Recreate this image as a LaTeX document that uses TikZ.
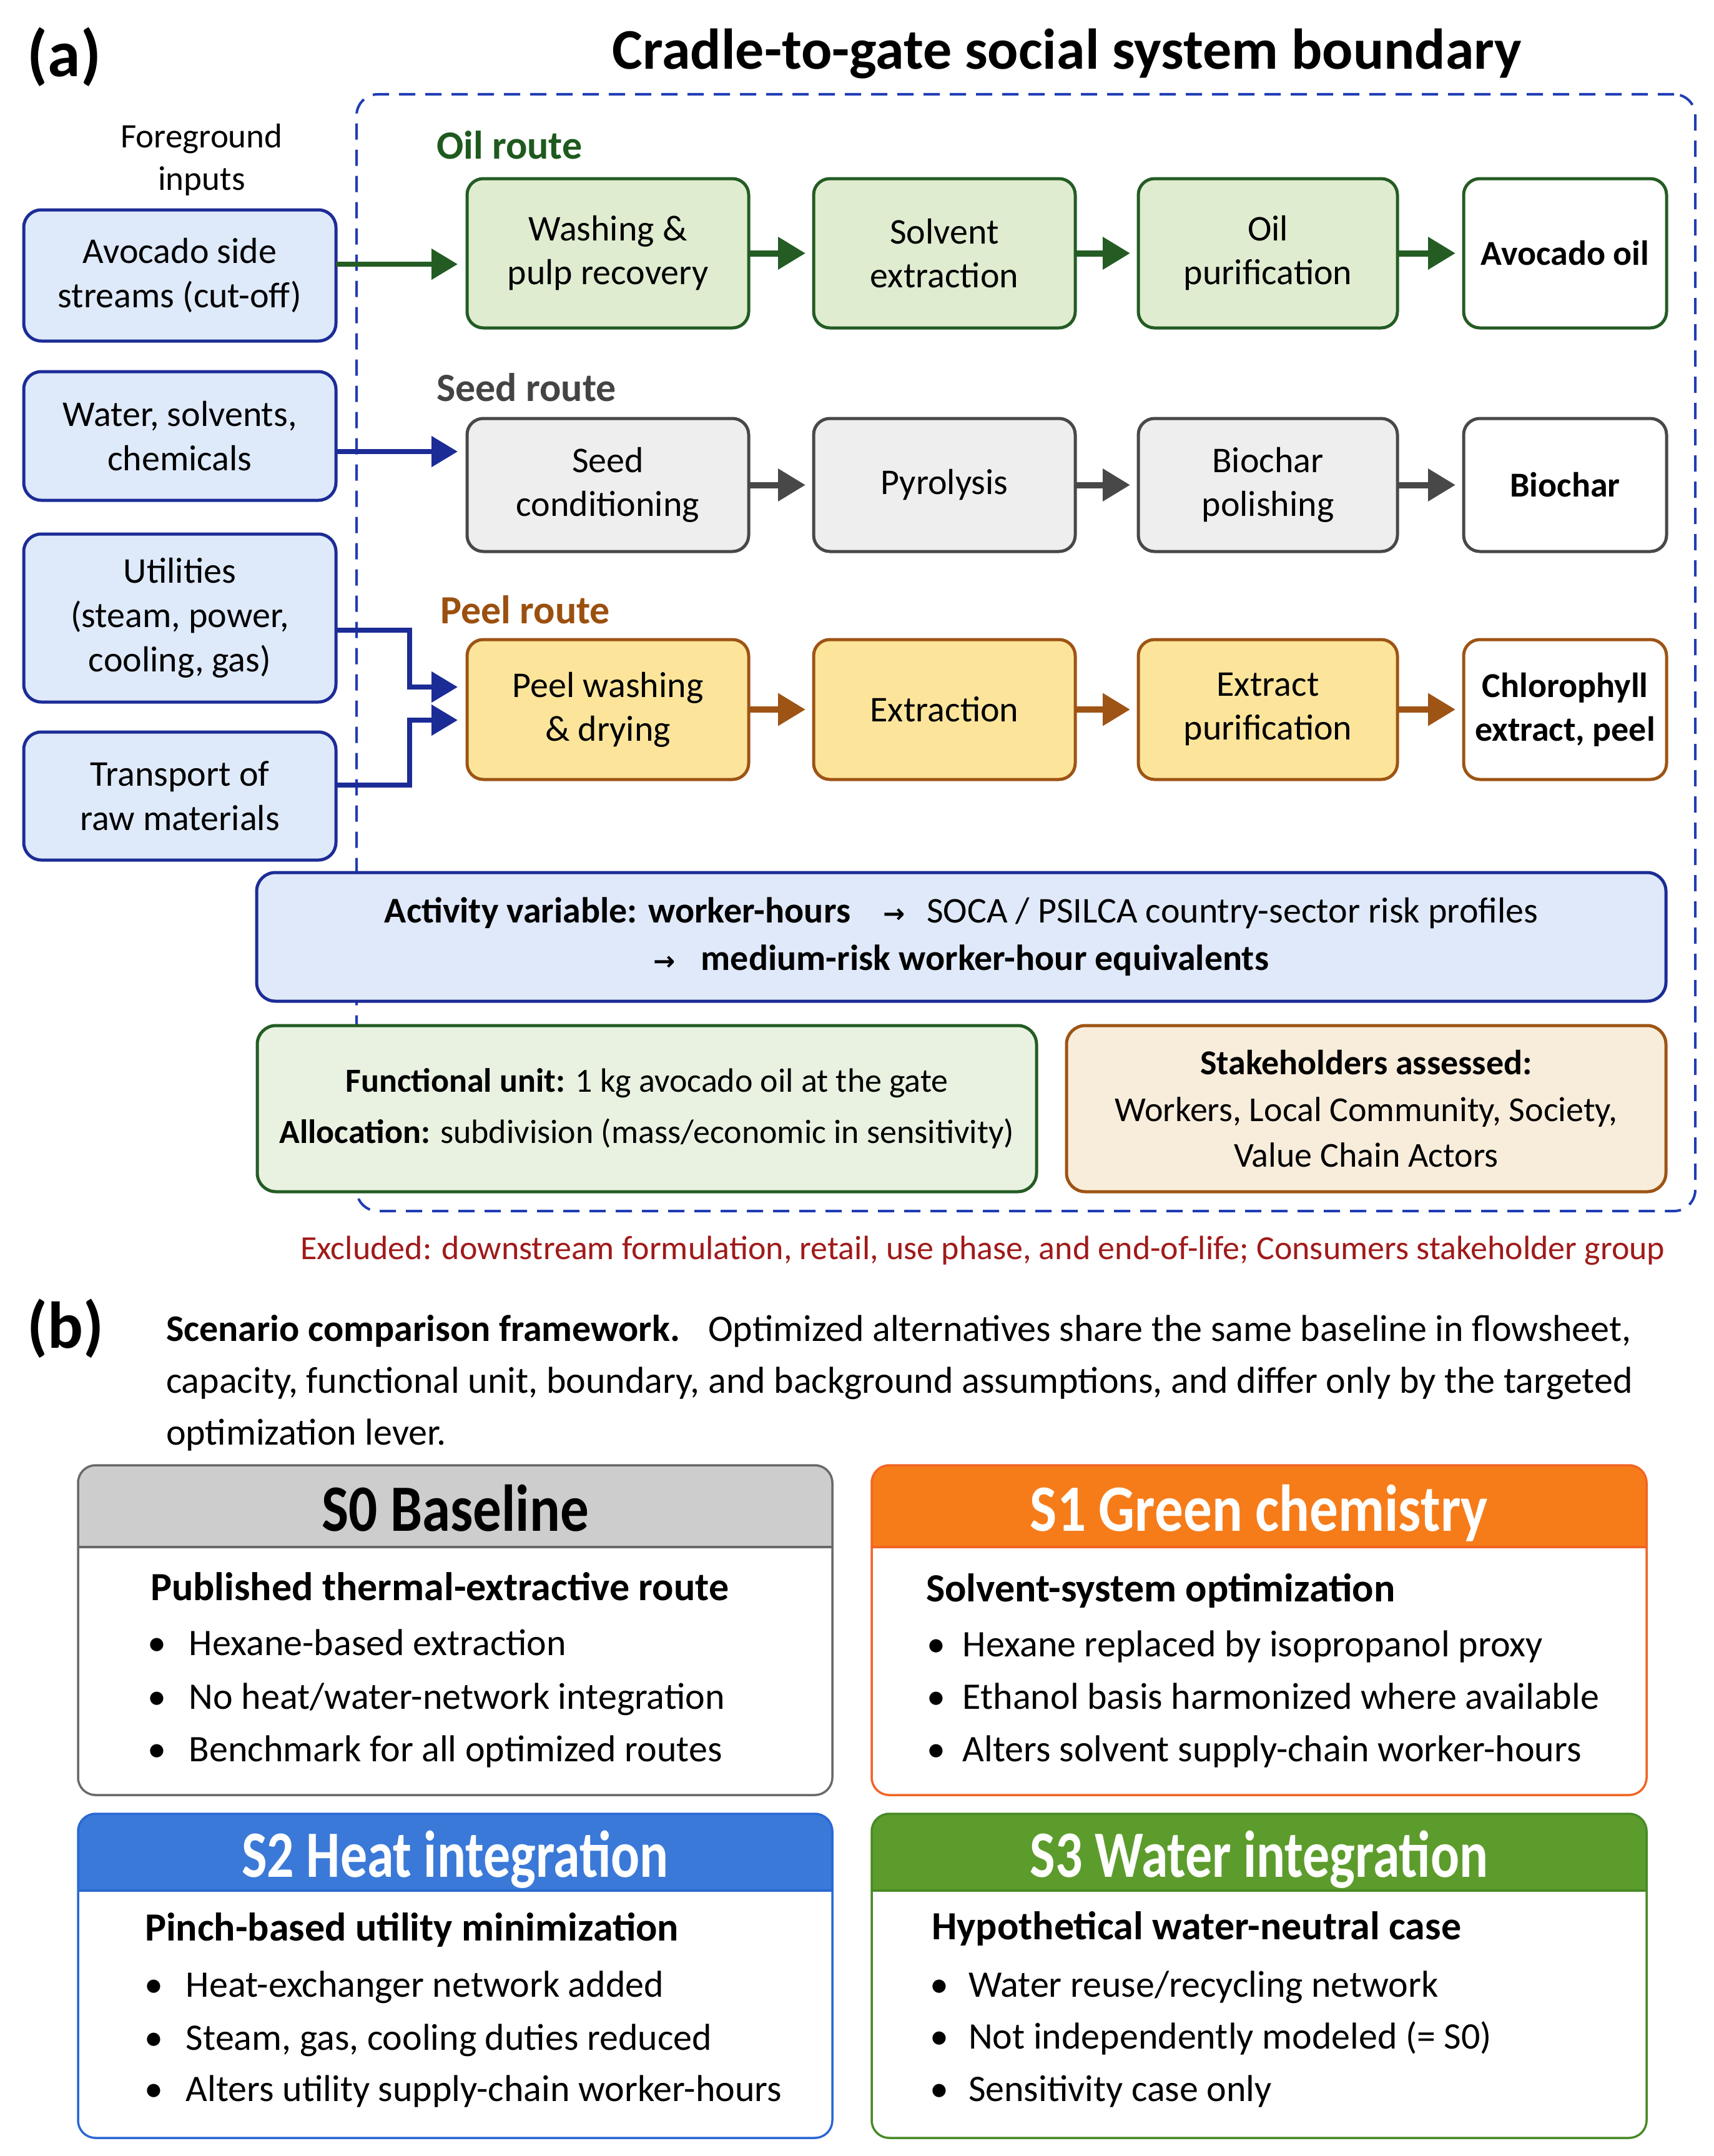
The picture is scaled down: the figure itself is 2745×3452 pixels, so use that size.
\documentclass[tikz,border=0pt]{standalone}
\usepackage{fontspec}
\usepackage{graphicx}
\setmainfont{Carlito}
\newfontfamily\arrowfont{DejaVu Sans}
\usetikzlibrary{arrows.meta,calc}
\newcommand\fsz[2]{\fontsize{#1}{#2}\selectfont}
\newcommand\ra{{\arrowfont\fsz{42}{42}\textbf{→}}}
\definecolor{inblue}{RGB}{28,44,150}
\definecolor{infill}{RGB}{222,233,250}
\definecolor{bndblue}{RGB}{32,60,180}
\definecolor{oilc}{RGB}{36,92,36}
\definecolor{oilfill}{RGB}{223,236,208}
\definecolor{oiltext}{RGB}{30,90,30}
\definecolor{seedc}{RGB}{72,72,72}
\definecolor{seedfill}{RGB}{238,238,238}
\definecolor{seedtext}{RGB}{68,68,68}
\definecolor{peelc}{RGB}{158,84,20}
\definecolor{peelfill}{RGB}{252,229,155}
\definecolor{peeltext}{RGB}{155,80,15}
\definecolor{actfill}{RGB}{224,233,250}
\definecolor{fufill}{RGB}{233,242,225}
\definecolor{stkfill}{RGB}{248,237,219}
\definecolor{exred}{RGB}{160,26,26}
\definecolor{hzero}{RGB}{205,205,205}
\definecolor{bzero}{RGB}{105,105,105}
\definecolor{hone}{RGB}{246,124,26}
\definecolor{bone}{RGB}{242,100,36}
\definecolor{htwo}{RGB}{58,121,216}
\definecolor{btwo}{RGB}{42,104,212}
\definecolor{hthree}{RGB}{92,156,44}
\definecolor{bthree}{RGB}{72,138,38}

% name, x-left, y-top, width, height, header height, header colour, border colour
\newcommand\scard[8]{%
  \node[minimum width=#4pt, minimum height=#5pt, anchor=north west] (#1) at (#2,#3) {};
  \begin{scope}
    \clip[rounded corners=28pt] (#1.north west) rectangle (#1.south east);
    \fill[white] (#1.north west) rectangle (#1.south east);
    \fill[#7] (#1.north west) rectangle ($(#1.north east)+(0,#6)$);
  \end{scope}
  \draw[#8, line width=3.5pt] ($(#1.north west)+(0,#6)$) -- ($(#1.north east)+(0,#6)$);
  \draw[#8, line width=3.5pt, rounded corners=28pt] (#1.north west) rectangle (#1.south east);
}

\begin{document}
\begin{tikzpicture}[x=1pt,y=-1pt,
  every node/.style={inner sep=0pt, outer sep=0pt},
  inbox/.style={draw=inblue, fill=infill, line width=5pt, rounded corners=28pt,
    minimum width=500pt, align=center, font=\fsz{58}{71}},
  proc/.style={line width=5pt, rounded corners=26pt, align=center, font=\fsz{58}{70}},
  oilbox/.style={proc, draw=oilc, fill=oilfill, minimum height=239pt},
  seedbox/.style={proc, draw=seedc, fill=seedfill, minimum height=213pt},
  peelbox/.style={proc, draw=peelc, fill=peelfill, minimum height=224pt},
  outbox/.style={fill=white, font=\bfseries\fsz{56}{70}},
  flow/.style={line width=10pt, -{Triangle[length=44pt,width=50pt]}, shorten >=13pt},
  inarr/.style={draw=inblue, color=inblue, line width=8pt, -{Triangle[length=42pt,width=48pt]}, shorten >=15pt},
  routelab/.style={anchor=base west, font=\bfseries\fsz{64}{64}},
  note/.style={line width=5pt, rounded corners=30pt, align=center},
  ctitle/.style={anchor=base, font=\bfseries\fsz{106}{106}},
  csub/.style={anchor=base west, font=\bfseries\fsz{64}{64}},
  cbul/.style={anchor=base west, font=\fsz{60}{60}},
  para/.style={anchor=base west, font=\fsz{60}{60}}
]
\useasboundingbox (0,0) rectangle (2745,3452);
\fill[white] (0,0) rectangle (2745,3452);

% ---------------- (a) ----------------
\node[draw=bndblue, line width=4pt, dash pattern=on 26pt off 16pt, rounded corners=34pt,
  minimum width=2144pt, minimum height=1788pt] (bnd) at (1643,1045) {};

\node[font=\bfseries\fsz{106}{106}] (la) at (103,91) {(a)};
\node[anchor=base, font=\bfseries\fsz{92}{92}] (title) at (1709,111) {Cradle-to-gate social system boundary};
\node[font=\fsz{55}{68}, align=center] (fg) at (323,256) {Foreground\\inputs};

\node[inbox, minimum height=210pt] (in1) at (288,441) {Avocado side\\streams (cut-off)};
\node[inbox, minimum height=206pt] (in2) at (288,698) {Water, solvents,\\chemicals};
\node[inbox, minimum height=269pt] (in3) at (288,989.5) {Utilities\\(steam, power,\\cooling, gas)};
\node[inbox, minimum height=205pt] (in4) at (288,1274.5) {Transport of\\raw materials};

\node[routelab, text=oiltext] (lo) at (699,254) {Oil route};
\node[routelab, text=seedtext] (ls) at (699,642) {Seed route};
\node[routelab, text=peeltext] (lp) at (705,998) {Peel route};

\node[oilbox, minimum width=451pt] (o1) at (973.5,405.5) {Washing \&\\pulp recovery};
\node[oilbox, minimum width=419pt] (o2) at (1512.5,405.5) {Solvent\\extraction};
\node[oilbox, minimum width=415pt] (o3) at (2030.5,405.5) {Oil\\purification};
\node[oilbox, outbox, minimum width=325pt] (o4) at (2506.5,405.5) {Avocado oil};

\node[seedbox, minimum width=451pt] (s1) at (973.5,776.5) {Seed\\conditioning};
\node[seedbox, minimum width=419pt] (s2) at (1512.5,776.5) {Pyrolysis};
\node[seedbox, minimum width=415pt] (s3) at (2030.5,776.5) {Biochar\\polishing};
\node[seedbox, outbox, minimum width=325pt] (s4) at (2506.5,776.5) {Biochar};

\node[peelbox, minimum width=451pt] (p1) at (973.5,1136) {Peel washing\\\& drying};
\node[peelbox, minimum width=419pt] (p2) at (1512.5,1136) {Extraction};
\node[peelbox, minimum width=415pt] (p3) at (2030.5,1136) {Extract\\purification};
\node[peelbox, outbox, minimum width=325pt] (p4) at (2506.5,1136) {Chlorophyll\\extract, peel};

\draw[flow, oilc] (o1) -- (o2);
\draw[flow, oilc] (o2) -- (o3);
\draw[flow, oilc] (o3) -- (o4);
\draw[flow, seedc] (s1) -- (s2);
\draw[flow, seedc] (s2) -- (s3);
\draw[flow, seedc] (s3) -- (s4);
\draw[flow, peelc] (p1) -- (p2);
\draw[flow, peelc] (p2) -- (p3);
\draw[flow, peelc] (p3) -- (p4);

\draw[inarr, oilc] (in1.east |- 0,423) -- (o1.west |- 0,423);
\draw[inarr] (in2.east |- 0,723) -- (s1.west |- 0,723);
\coordinate (j3) at (656,1100);
\coordinate (j4) at (656,1153);
\draw[inarr] (in3.east |- 0,1009) -| (j3) -- (p1.west |- j3);
\draw[inarr] (in4.east |- 0,1257) -| (j4) -- (p1.west |- j4);

\node[note, draw=inblue, fill=actfill, minimum width=2257pt, minimum height=206pt, font=\fsz{58}{76}] (act) at (1539.5,1500)
  {\textbf{Activity variable: worker-hours}\hspace{0.9em}\ra\hspace{0.6em}SOCA / PSILCA country-sector risk profiles\\
   \ra\hspace{0.7em}\textbf{medium-risk worker-hour equivalents}};
\node[note, draw=oilc, fill=fufill, minimum width=1248pt, minimum height=266pt, font=\fsz{54}{82}] (fu) at (1036,1775)
  {\textbf{Functional unit:} 1 kg avocado oil at the gate\\
   \textbf{Allocation:} subdivision (mass/economic in sensitivity)};
\node[note, draw=peelc, fill=stkfill, minimum width=960pt, minimum height=266pt, font=\fsz{56}{73}] (stk) at (2188,1775)
  {\textbf{Stakeholders assessed:}\\[2pt]Workers, Local Community, Society,\\Value Chain Actors};

\node[anchor=base, font=\fsz{54}{54}, text=exred] (excl) at (1574,2016)
  {Excluded: downstream formulation, retail, use phase, and end-of-life; Consumers stakeholder group};

% ---------------- (b) ----------------
\node[font=\bfseries\fsz{106}{106}] (lb) at (105,2127) {(b)};
\node[para] (pl1) at (266,2147) {\textbf{Scenario comparison framework.}\hspace{0.45em} Optimized alternatives share the same baseline in flowsheet,};
\node[para] (pl2) at (266,2230) {capacity, functional unit, boundary, and background assumptions, and differ only by the targeted};
\node[para] (pl3) at (266,2313) {optimization lever.};

\scard{c0}{125}{2346}{1208}{528}{131}{hzero}{bzero}
\scard{c1}{1396}{2346}{1241}{528}{131}{hone}{bone}
\scard{c2}{125}{2904}{1208}{519}{123}{htwo}{btwo}
\scard{c3}{1396}{2904}{1241}{519}{123}{hthree}{bthree}

\node[ctitle, text=black] (c0t) at (729,2451) {\scalebox{0.86}[1]{S0 Baseline}};
\node[ctitle, text=white] (c1t) at (2016.5,2451) {\scalebox{0.86}[1]{S1 Green chemistry}};
\node[ctitle, text=white] (c2t) at (729,3005) {\scalebox{0.81}[1]{S2 Heat integration}};
\node[ctitle, text=white] (c3t) at (2016.5,3005) {\scalebox{0.81}[1]{S3 Water integration}};

\node[csub] (c0s) at (241,2562) {Published thermal-extractive route};
\node[cbul] (c0a) at (236,2650) {\makebox[67pt][l]{\textbullet}Hexane-based extraction};
\node[cbul] (c0b) at (236,2736) {\makebox[67pt][l]{\textbullet}No heat/water-network integration};
\node[cbul] (c0c) at (236,2820) {\makebox[67pt][l]{\textbullet}Benchmark for all optimized routes};

\node[csub] (c1s) at (1483,2564) {Solvent-system optimization};
\node[cbul] (c1a) at (1484,2652) {\makebox[58pt][l]{\textbullet}Hexane replaced by isopropanol proxy};
\node[cbul] (c1b) at (1484,2736) {\makebox[58pt][l]{\textbullet}Ethanol basis harmonized where available};
\node[cbul] (c1c) at (1484,2820) {\makebox[58pt][l]{\textbullet}Alters solvent supply-chain worker-hours};

\node[csub] (c2s) at (232,3107) {Pinch-based utility minimization};
\node[cbul] (c2a) at (231,3197) {\makebox[67pt][l]{\textbullet}Heat-exchanger network added};
\node[cbul] (c2b) at (231,3282) {\makebox[67pt][l]{\textbullet}Steam, gas, cooling duties reduced};
\node[cbul] (c2c) at (231,3364) {\makebox[67pt][l]{\textbullet}Alters utility supply-chain worker-hours};

\node[csub] (c3s) at (1492,3105) {Hypothetical water-neutral case};
\node[cbul] (c3a) at (1489,3197) {\makebox[62pt][l]{\textbullet}Water reuse/recycling network};
\node[cbul] (c3b) at (1489,3280) {\makebox[62pt][l]{\textbullet}Not independently modeled (= S0)};
\node[cbul] (c3c) at (1489,3364) {\makebox[62pt][l]{\textbullet}Sensitivity case only};
\end{tikzpicture}
\end{document}
